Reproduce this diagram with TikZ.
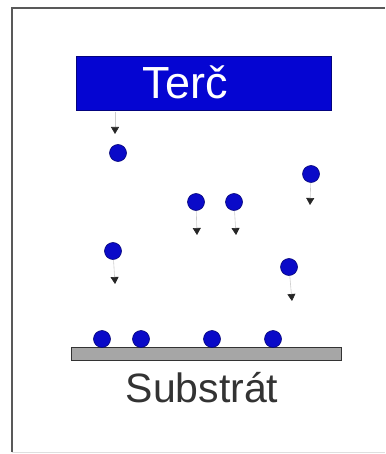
\documentclass[tikz,border=0pt]{standalone}
\usepackage{fontspec}
\setmainfont{Liberation Sans}
\usetikzlibrary{arrows.meta}
\definecolor{atomblue}{RGB}{10,10,200}
\definecolor{targetblue}{RGB}{5,5,210}
\tikzset{
  atom/.style={circle, fill=atomblue, draw=atomblue!60!black, line width=0.6pt, minimum size=17pt, inner sep=0pt},
  fall/.style={draw=gray!40, line width=0.6pt, -{Triangle[width=8pt,length=7pt,color=black!85,fill=black!85]}},
  frameline/.style={draw=gray!70!black, line width=1.8pt}
}
\begin{document}
\begin{tikzpicture}[x=1pt,y=-1pt]
\useasboundingbox (0,0) rectangle (385,454);
% frame
\coordinate (fTL) at (12,8);
\coordinate (fTR) at (385,8);
\coordinate (fBL) at (12,452);
\coordinate (fBR) at (385,452);
\draw[frameline] (fBL) -- (fTL) -- (fTR);
\draw[gray!25, line width=1pt] (fBL) -- (fBR);
% target
\node[fill=targetblue, draw=targetblue!60!black, line width=0.6pt, minimum width=255pt, minimum height=54pt, inner sep=0pt, anchor=north west] (target) at (76,56) {};
\node[text=white, font=\fontsize{45}{45}\selectfont, anchor=base] (tlabel) at (185,99) {Terč};
% substrate
\node[fill=gray!70, draw=gray!40!black, line width=1pt, minimum width=270pt, minimum height=13pt, inner sep=0pt, anchor=north west] (sub) at (71,347) {};
\node[text=black!80, font=\fontsize{41}{41}\selectfont, anchor=base] (slabel) at (202,402) {Substrát};
% first atom and arrow from target
\coordinate (s1) at (115,112);
\coordinate (t1) at (115,134);
\draw[fall] (s1) -- (t1);
\node[atom] (a1) at (118,153) {};
% falling atoms
\node[atom] (a2) at (311,174) {};
\coordinate (t2) at (310,205);
\node[atom] (a3) at (196,202) {};
\coordinate (t3) at (197,235);
\node[atom] (a4) at (234,202) {};
\coordinate (t4) at (236,235);
\node[atom] (a5) at (113,251) {};
\coordinate (t5) at (115,284);
\node[atom] (a6) at (289,267) {};
\coordinate (t6) at (292,301);
\draw[fall] (a2) -- (t2);
\draw[fall] (a3) -- (t3);
\draw[fall] (a4) -- (t4);
\draw[fall] (a5) -- (t5);
\draw[fall] (a6) -- (t6);
% deposited atoms
\node[atom] (d1) at (102,339) {};
\node[atom] (d2) at (141,339) {};
\node[atom] (d3) at (212,339) {};
\node[atom] (d4) at (273,339) {};
\end{tikzpicture}
\end{document}
